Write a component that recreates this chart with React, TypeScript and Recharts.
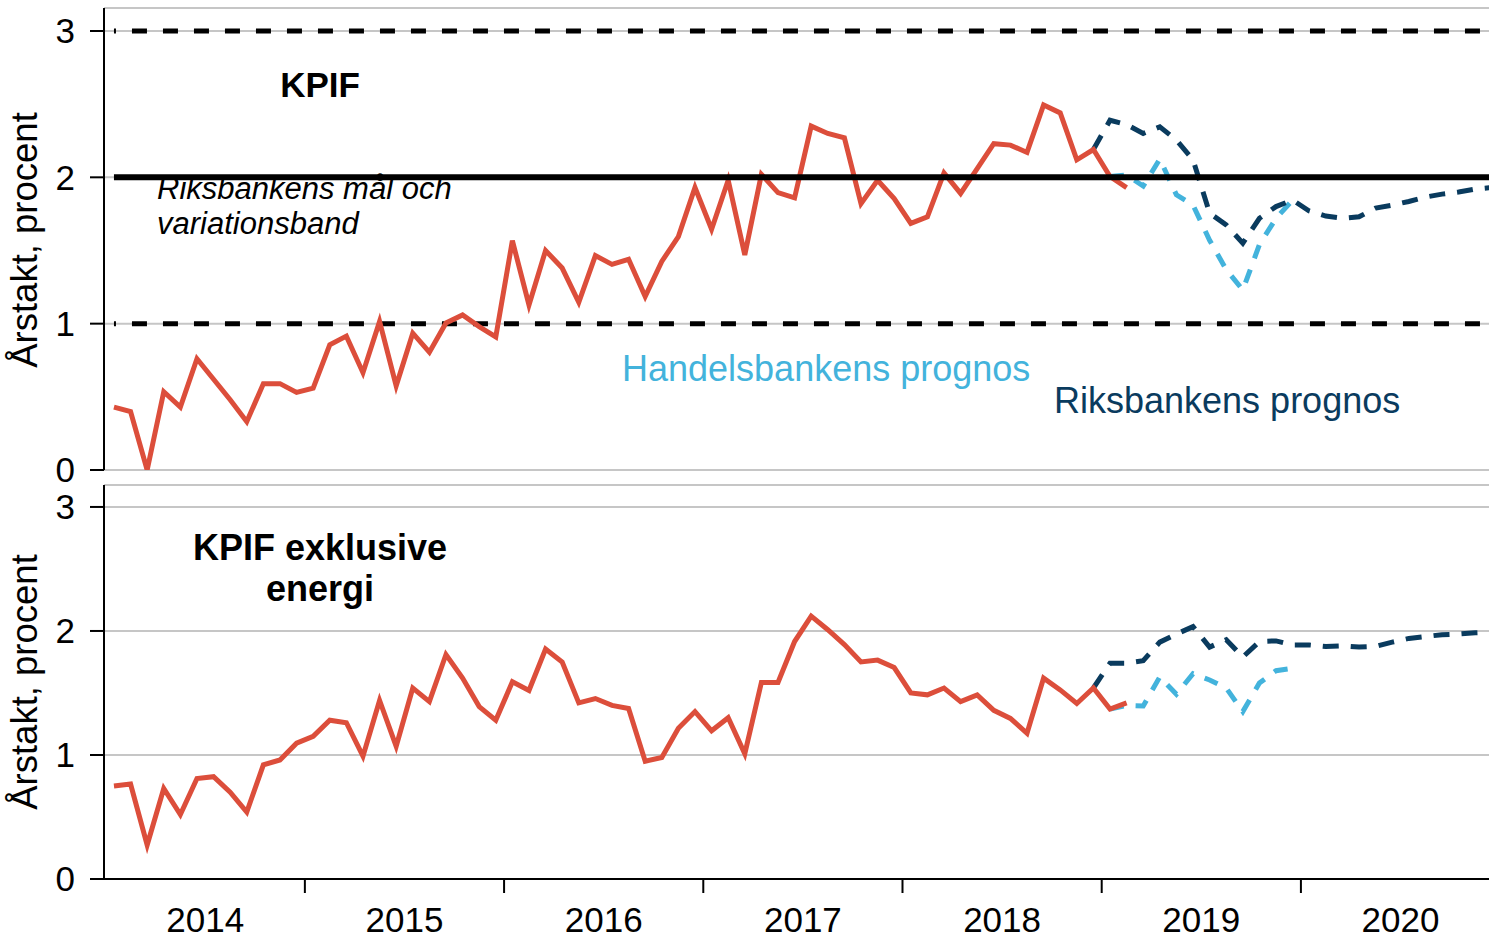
// KPIF och KPIF exklusive energi – utfall och prognoser (Recharts)

import { LineChart, Line, XAxis, YAxis, CartesianGrid, ReferenceLine } from 'recharts'

// ============================================
// Data
// ============================================

const years = ['2014', '2015', '2016', '2017', '2018', '2019', '2020']
const months = years.flatMap((y) =>
  ['01', '02', '03', '04', '05', '06', '07', '08', '09', '10', '11', '12'].map((m) => `${y}-${m}`)
)

// KPIF, årstakt (jan 2014 – feb 2019)
const kpif = [
  0.43, 0.4, 0.0, 0.535, 0.43, 0.76, 0.62, 0.48, 0.33, 0.59, 0.59, 0.53,
  0.56, 0.855, 0.915, 0.665, 1.015, 0.575, 0.935, 0.805, 1.005, 1.06, 0.98, 0.91,
  1.567, 1.128, 1.5, 1.38, 1.146, 1.465, 1.405, 1.44, 1.185, 1.425, 1.595, 1.93,
  1.645, 1.98, 1.47, 2.02, 1.895, 1.86, 2.35, 2.3, 2.27, 1.82, 1.98, 1.855,
  1.685, 1.73, 2.03, 1.89, 2.06, 2.23, 2.22, 2.17, 2.495, 2.44, 2.12, 2.19,
  2.005, 1.93,
]

// KPIF exklusive energi, årstakt (jan 2014 – feb 2019)
const kpifxe = [
  0.75, 0.766, 0.274, 0.73, 0.52, 0.81, 0.825, 0.7, 0.54, 0.92, 0.96, 1.095,
  1.15, 1.28, 1.26, 0.99, 1.44, 1.07, 1.54, 1.43, 1.81, 1.62, 1.39, 1.28,
  1.59, 1.52, 1.855, 1.75, 1.42, 1.455, 1.4, 1.375, 0.95, 0.98, 1.215, 1.35,
  1.195, 1.3, 1.01, 1.585, 1.585, 1.915, 2.12, 2.01, 1.89, 1.75, 1.765, 1.705,
  1.5, 1.485, 1.54, 1.43, 1.485, 1.36, 1.295, 1.175, 1.62, 1.525, 1.415, 1.54,
  1.37, 1.42,
]

// Riksbankens prognos, från dec 2018 (index 59)
const RB_START = 59
const rbKpif = [
  2.19, 2.39, 2.36, 2.3, 2.345, 2.255, 2.12, 1.755, 1.675, 1.55, 1.72, 1.8,
  1.845, 1.77, 1.735, 1.72, 1.73, 1.79, 1.81, 1.835, 1.865, 1.885, 1.9, 1.92, 1.93,
]
const rbKpifxe = [
  1.54, 1.74, 1.74, 1.76, 1.91, 1.975, 2.035, 1.87, 1.93, 1.79, 1.915, 1.92,
  1.887, 1.887, 1.875, 1.88, 1.87, 1.875, 1.91, 1.94, 1.955, 1.97, 1.975, 1.985, 1.99,
]

// Handelsbankens prognos, från jan 2019 (index 60)
const HB_START = 60
const hbKpif = [2.005, 2.015, 1.94, 2.125, 1.88, 1.81, 1.57, 1.37, 1.23, 1.54, 1.72, 1.845]
const hbKpifxe = [1.37, 1.4, 1.395, 1.63, 1.49, 1.655, 1.605, 1.54, 1.35, 1.58, 1.68, 1.7]

// Riksbankens mål och variationsband
const target = 2
const bandLow = 1
const bandHigh = 3

// ============================================
// Styles
// ============================================

const FONT = '"Liberation Sans", Arial, sans-serif'
const RED = '#dc4e3b'
const NAVY = '#0a3b5e'
const LIGHT = '#43b3dc'
const GRID = '#c6c6c6'

const W = 1489
const X_DOMAIN: [number, number] = [-0.6, 82.83]
const yTicks = [0, 1, 2, 3]
const xTicks = years.flatMap((_, k) => (k === 0 ? [12 * k + 5.5] : [12 * k - 0.5, 12 * k + 5.5]))

function buildRows(actual: number[], rb: number[], hb: number[]) {
  return months.map((m, i) => ({
    i,
    month: m,
    actual: i < actual.length ? actual[i] : null,
    rb: i >= RB_START && i - RB_START < rb.length ? rb[i - RB_START] : null,
    hb: i >= HB_START && i - HB_START < hb.length ? hb[i - HB_START] : null,
  }))
}

const topRows = buildRows(kpif, rbKpif, hbKpif)
const bottomRows = buildRows(kpifxe, rbKpifxe, hbKpifxe)

// ============================================
// X-axel: streck vid årsskiften, årtal mitt i året
// ============================================

function YearTick(props: any) {
  const { x, y, payload } = props
  const v = payload.value as number
  const k = (v - 5.5) / 12
  if (Number.isInteger(k)) {
    return (
      <text x={x} y={y + 53} textAnchor="middle" fontSize={35} fontFamily={FONT} fill="#000">
        {years[k]}
      </text>
    )
  }
  return <line x1={x} x2={x} y1={y} y2={y + 14} stroke="#000" strokeWidth={2} />
}

// ============================================
// Panel
// ============================================

interface PanelProps {
  rows: ReturnType<typeof buildRows>
  top: number
  height: number
  bottomMargin: number
  yMax: number
  bottomAxis: boolean
  band: boolean
}

function Panel({ rows, top, height, bottomMargin, yMax, bottomAxis, band }: PanelProps) {
  return (
    <div style={{ position: 'absolute', left: 0, top }}>
      <LineChart
        width={W}
        height={height}
        data={rows}
        margin={{ top: 8, right: 0, bottom: bottomMargin, left: 0 }}
      >
        <CartesianGrid vertical={false} stroke={GRID} strokeWidth={2} />
        <XAxis
          xAxisId="top"
          orientation="top"
          dataKey="i"
          type="number"
          domain={X_DOMAIN}
          allowDataOverflow
          height={0}
          tick={false}
          tickLine={false}
          axisLine={{ stroke: '#000', strokeWidth: 2 }}
        />
        <XAxis
          dataKey="i"
          type="number"
          domain={X_DOMAIN}
          allowDataOverflow
          height={bottomAxis ? 60 : 0}
          ticks={bottomAxis ? xTicks : []}
          interval={0}
          tick={bottomAxis ? YearTick : false}
          tickLine={false}
          tickSize={0}
          tickMargin={0}
          axisLine={{ stroke: '#000', strokeWidth: 2 }}
        />
        <YAxis
          type="number"
          domain={[0, yMax]}
          allowDataOverflow
          ticks={yTicks}
          interval={0}
          width={104}
          tickSize={14}
          tickMargin={15}
          tickLine={{ stroke: '#000', strokeWidth: 2 }}
          axisLine={{ stroke: '#000', strokeWidth: 2 }}
          tick={{ fill: '#000', fontSize: 35, fontFamily: FONT }}
        />
        {band && (
          <ReferenceLine
            segment={[{ x: 0, y: bandHigh }, { x: 83, y: bandHigh }]}
            ifOverflow="hidden"
            stroke="#000"
            strokeWidth={5}
            strokeDasharray="15 16"
            strokeDashoffset={13}
          />
        )}
        {band && (
          <ReferenceLine
            segment={[{ x: 0, y: bandLow }, { x: 83, y: bandLow }]}
            ifOverflow="hidden"
            stroke="#000"
            strokeWidth={5}
            strokeDasharray="15 16"
            strokeDashoffset={13}
          />
        )}
        <Line
          dataKey="hb"
          stroke={LIGHT}
          strokeWidth={5}
          strokeDasharray="14 12"
          dot={false}
          activeDot={false}
          isAnimationActive={false}
        />
        <Line
          dataKey="rb"
          stroke={NAVY}
          strokeWidth={5}
          strokeDasharray="16 12"
          dot={false}
          activeDot={false}
          isAnimationActive={false}
        />
        <Line
          dataKey="actual"
          stroke={RED}
          strokeWidth={5}
          dot={false}
          activeDot={false}
          isAnimationActive={false}
        />
        {band && (
          <ReferenceLine
            segment={[{ x: 0, y: target }, { x: 83, y: target }]}
            ifOverflow="hidden"
            stroke="#000"
            strokeWidth={6}
          />
        )}
      </LineChart>
    </div>
  )
}

// ============================================
// App
// ============================================

export default function App() {
  return (
    <div style={{ position: 'absolute', left: 0, top: 0, width: W, height: 939, background: '#fff', fontFamily: FONT }}>
      <Panel rows={topRows} top={0} height={492} bottomMargin={22} yMax={3.157} bottomAxis={false} band />
      <Panel rows={bottomRows} top={477} height={462} bottomMargin={0} yMax={3.177} bottomAxis band={false} />

      <svg width={W} height={939} style={{ position: 'absolute', left: 0, top: 0, pointerEvents: 'none' }}>
        <g fontFamily={FONT}>
          <text x={37} y={240} transform="rotate(-90 37 240)" textAnchor="middle" fontSize={36.5} fill="#000">
            Årstakt, procent
          </text>
          <text x={37} y={682} transform="rotate(-90 37 682)" textAnchor="middle" fontSize={36.5} fill="#000">
            Årstakt, procent
          </text>

          <text x={320} y={97} textAnchor="middle" fontSize={35} fontWeight="bold" fill="#000">
            KPIF
          </text>
          <text x={157} y={199} fontSize={31} fontStyle="italic" fill="#000">
            Riksbankens mål och
          </text>
          <text x={157} y={234} fontSize={31} fontStyle="italic" fill="#000">
            variationsband
          </text>
          <text x={622} y={381} fontSize={36} fill={LIGHT}>
            Handelsbankens prognos
          </text>
          <text x={1054} y={413} fontSize={36} fill={NAVY}>
            Riksbankens prognos
          </text>

          <text x={320} y={560} textAnchor="middle" fontSize={36} fontWeight="bold" fill="#000">
            KPIF exklusive
          </text>
          <text x={320} y={601} textAnchor="middle" fontSize={36} fontWeight="bold" fill="#000">
            energi
          </text>
        </g>
      </svg>
    </div>
  )
}
